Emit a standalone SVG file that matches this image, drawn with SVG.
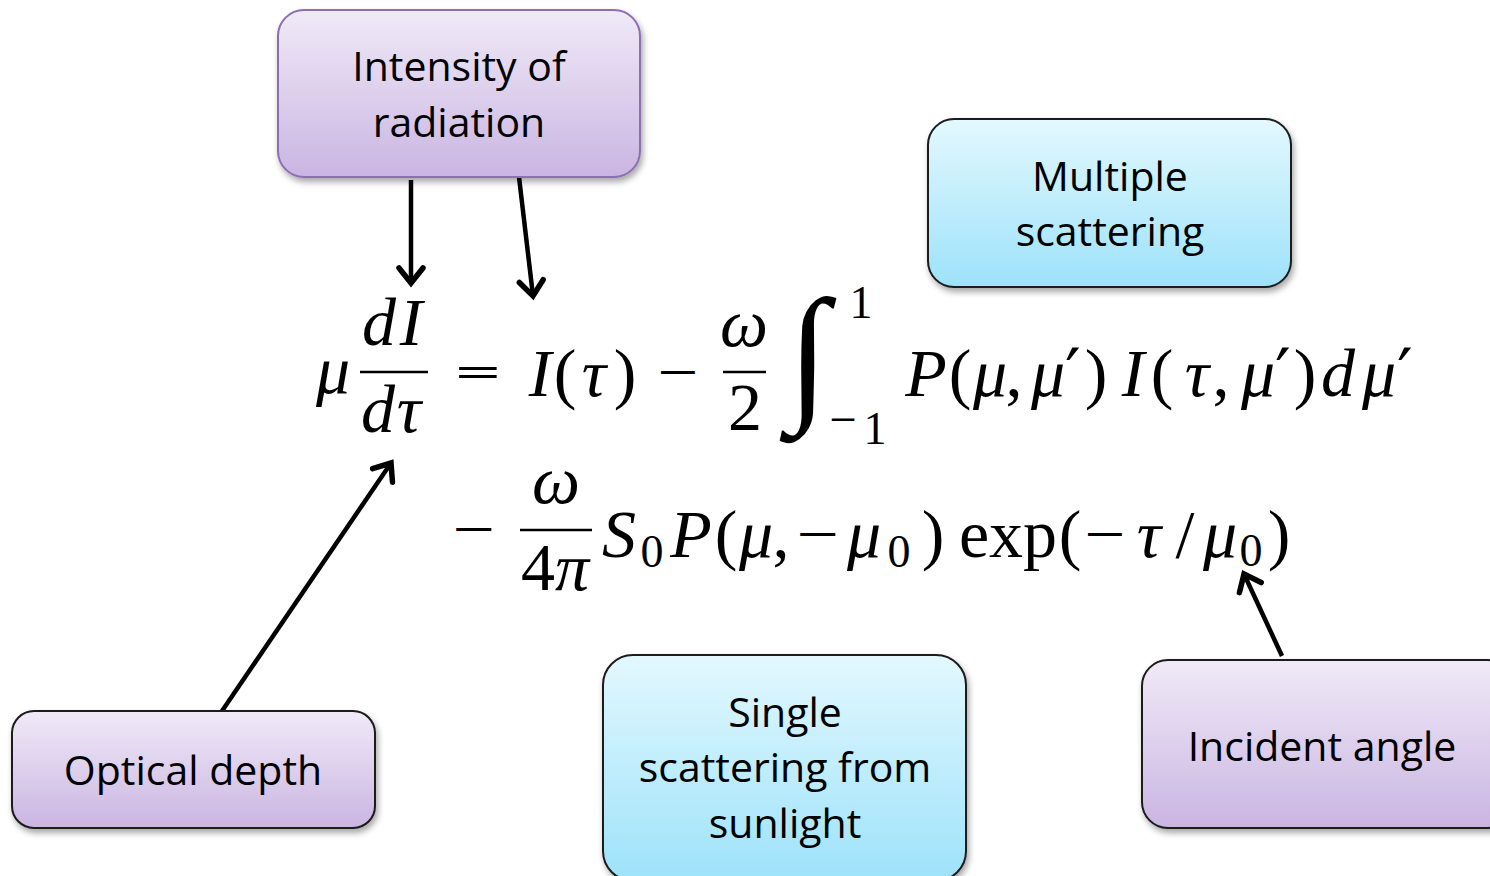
<svg xmlns="http://www.w3.org/2000/svg" width="1490" height="876" viewBox="0 0 1490 876">
<defs>
  <linearGradient id="gPurple" x1="0" y1="0" x2="0" y2="1">
    <stop offset="0" stop-color="#f0eaf7"/>
    <stop offset="1" stop-color="#cab5e2"/>
  </linearGradient>
  <linearGradient id="gCyan" x1="0" y1="0" x2="0" y2="1">
    <stop offset="0" stop-color="#e3f8fe"/>
    <stop offset="1" stop-color="#9de2fa"/>
  </linearGradient>
  <filter id="shadow" x="-10%" y="-10%" width="125%" height="130%">
    <feDropShadow dx="2" dy="4" stdDeviation="3" flood-color="#000" flood-opacity="0.35"/>
  </filter>
  <marker id="head" markerUnits="userSpaceOnUse" markerWidth="40" markerHeight="40" viewBox="-20 -20 40 40" refX="0" refY="0" orient="auto">
    <path d="M-15,-12 L0,0 L-15,12" fill="none" stroke="#000" stroke-width="5.5" stroke-linejoin="miter" stroke-linecap="round"/>
  </marker>
  <style>
    .box-text{font-family:"Open Sans","Liberation Sans",sans-serif;font-size:41px;fill:#000;text-anchor:middle}
    .m{font-family:"Liberation Serif","DejaVu Serif",serif;font-size:68px;fill:#000;text-anchor:middle}
    .i{font-style:italic}
    .s{font-size:46px}
    .op{font-family:"DejaVu Serif",serif;font-size:40px;fill:#000;text-anchor:middle}
    .pr{font-family:"DejaVu Sans",sans-serif;font-size:70px;fill:#000;text-anchor:middle}
    .bar{stroke:#000;stroke-width:2.6}
    .conn{stroke:#000;stroke-width:4.5;fill:none;marker-end:url(#head)}
  </style>
</defs>
<rect width="1490" height="876" fill="#fff"/>

<g id="connectors">
  <line class="conn" x1="411" y1="180" x2="411" y2="283"/>
  <line class="conn" x1="519" y1="177" x2="533" y2="296"/>
  <line class="conn" x1="222" y1="711" x2="391" y2="463"/>
  <line class="conn" x1="1282" y1="656" x2="1244" y2="574"/>
</g>

<g id="node-intensity">
  <rect x="278" y="10" width="362" height="167" rx="26" fill="url(#gPurple)" stroke="#8a6fb0" stroke-width="2" filter="url(#shadow)"/>
  <text class="box-text" x="459" y="81">Intensity of</text>
  <text class="box-text" x="459" y="137">radiation</text>
</g>

<g id="node-multiple">
  <rect x="928" y="119" width="363" height="168" rx="26" fill="url(#gCyan)" stroke="#1a1a1a" stroke-width="2" filter="url(#shadow)"/>
  <text class="box-text" x="1110" y="191">Multiple</text>
  <text class="box-text" x="1110" y="246">scattering</text>
</g>

<g id="node-optical">
  <rect x="12" y="711" width="363" height="117" rx="22" fill="url(#gPurple)" stroke="#1a1a1a" stroke-width="2" filter="url(#shadow)"/>
  <text class="box-text" x="193" y="785">Optical depth</text>
</g>

<g id="node-single">
  <rect x="603" y="655" width="363" height="226" rx="30" fill="url(#gCyan)" stroke="#1a1a1a" stroke-width="2" filter="url(#shadow)"/>
  <text class="box-text" x="785" y="727">Single</text>
  <text class="box-text" x="785" y="782">scattering from</text>
  <text class="box-text" x="785" y="838">sunlight</text>
</g>

<g id="node-incident">
  <rect x="1142" y="660" width="372" height="168" rx="26" fill="url(#gPurple)" stroke="#1a1a1a" stroke-width="2" filter="url(#shadow)"/>
  <text class="box-text" x="1322" y="761">Incident angle</text>
</g>

<g id="equation">
  <!-- line 1 -->
  <text class="m i" x="333" y="393">μ</text>
  <text class="m i" x="379" y="345">d</text>
  <text class="m i" x="411" y="345">I</text>
  <line class="bar" x1="360" y1="372" x2="428" y2="372"/>
  <text class="m i" x="378" y="432">d</text>
  <text class="m i" x="409" y="432">τ</text>
  <text class="op" transform="translate(478,385) scale(1.5,1)">=</text>
  <text class="m i" x="540" y="396">I</text>
  <text class="m" x="565" y="396">(</text>
  <text class="m i" x="594" y="396">τ</text>
  <text class="m" x="625" y="396">)</text>
  <text class="op" transform="translate(678,385) scale(1.35,1)">−</text>
  <text class="m i" x="744" y="346">ω</text>
  <line class="bar" x1="723" y1="372" x2="766" y2="372"/>
  <text class="m" x="745" y="430">2</text>
  <text x="808" y="403" style="font-family:'Liberation Serif',serif;font-size:150px;text-anchor:middle">∫</text>
  <text class="m s" x="861" y="318">1</text>
  <text class="op" transform="translate(843,429) scale(1.2,1)" style="font-size:30px">−</text>
  <text class="m s" x="875" y="444">1</text>
  <text class="m i" x="926" y="396">P</text>
  <text class="m" x="960" y="396">(</text>
  <text class="m i" x="990" y="396">μ</text>
  <text class="m" x="1014" y="396">,</text>
  <text class="m i" x="1048" y="396">μ</text>
  <text class="pr" x="1073" y="398">′</text>
  <text class="m" x="1096" y="396">)</text>
  <text class="m i" x="1133" y="396">I</text>
  <text class="m" x="1162" y="396">(</text>
  <text class="m i" x="1197" y="396">τ</text>
  <text class="m" x="1221" y="396">,</text>
  <text class="m i" x="1258" y="396">μ</text>
  <text class="pr" x="1283" y="398">′</text>
  <text class="m" x="1305" y="396">)</text>
  <text class="m i" x="1338" y="396">d</text>
  <text class="m i" x="1379" y="396">μ</text>
  <text class="pr" x="1405" y="398">′</text>

  <!-- line 2 -->
  <text class="op" transform="translate(474,542) scale(1.4,1)">−</text>
  <text class="m i" x="556" y="503">ω</text>
  <line class="bar" x1="520" y1="530" x2="592" y2="530"/>
  <text class="m" x="538" y="590">4</text>
  <text class="m i" x="572" y="590">π</text>
  <text class="m i" x="619" y="557">S</text>
  <text class="m s" x="652" y="567">0</text>
  <text class="m i" x="691" y="557">P</text>
  <text class="m" x="726" y="557">(</text>
  <text class="m i" x="756" y="557">μ</text>
  <text class="m" x="781" y="557">,</text>
  <text class="op" transform="translate(818,547) scale(1.4,1)">−</text>
  <text class="m i" x="864" y="557">μ</text>
  <text class="m s" x="899" y="567">0</text>
  <text class="m" x="933" y="557">)</text>
  <text class="m" x="1008" y="557">exp</text>
  <text class="m" x="1070" y="557">(</text>
  <text class="op" transform="translate(1105,547) scale(1.35,1)">−</text>
  <text class="m i" x="1149" y="557">τ</text>
  <text class="m" x="1185" y="557">/</text>
  <text class="m i" x="1220" y="557">μ</text>
  <text class="m s" x="1251" y="566">0</text>
  <text class="m" x="1279" y="557">)</text>
</g>
</svg>
